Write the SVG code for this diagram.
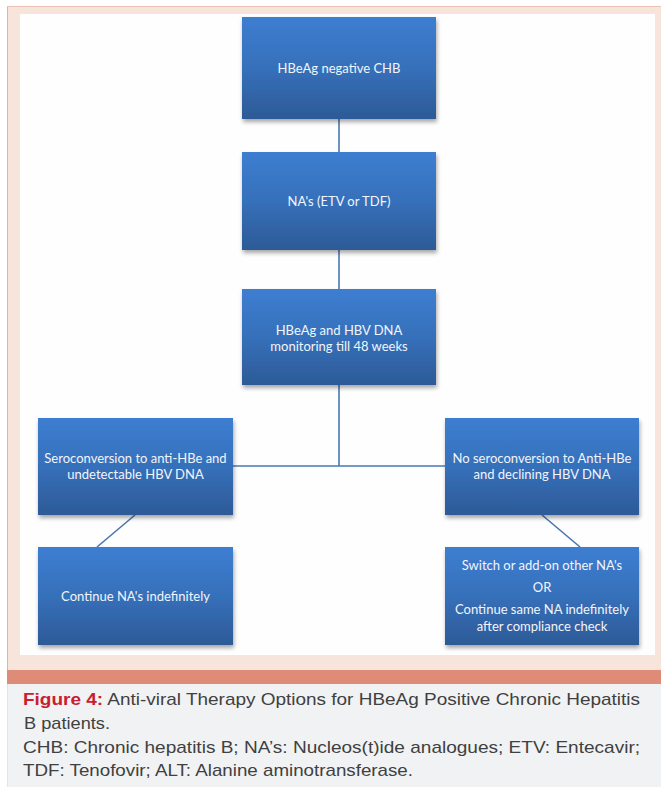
<svg xmlns="http://www.w3.org/2000/svg" width="661" height="787" viewBox="0 0 661 787">
<defs>
<linearGradient id="g" x1="0" y1="0" x2="0" y2="1">
<stop offset="0" stop-color="#3d7ed1"/>
<stop offset="0.5" stop-color="#3670ba"/>
<stop offset="1" stop-color="#2d5a97"/>
</linearGradient>
<filter id="sh" x="-10%" y="-10%" width="125%" height="125%">
<feGaussianBlur in="SourceAlpha" stdDeviation="2"/>
<feOffset dx="1" dy="3"/>
<feComponentTransfer><feFuncA type="linear" slope="0.35"/></feComponentTransfer>
<feMerge><feMergeNode/><feMergeNode in="SourceGraphic"/></feMerge>
</filter>
</defs>
<style>
.box{fill:url(#g);filter:url(#sh);}
.t{font-family:Lato,"Open Sans","Liberation Sans",sans-serif;font-size:13px;fill:#f2f5fb;text-anchor:middle;}
.c{stroke:#4a78b0;stroke-width:1.6;fill:none;}
.cap{font-family:"Liberation Sans",Arial,sans-serif;font-size:17px;fill:#404040;}
.red{fill:#c8202f;font-weight:bold;}
</style>
<rect x="0" y="0" width="661" height="787" fill="#ffffff"/>
<rect x="7" y="6" width="654" height="664" fill="#f7e5dc"/>
<line x1="7.5" y1="6" x2="7.5" y2="670" stroke="#e6b3a3" stroke-width="1"/>
<line x1="7" y1="6.5" x2="661" y2="6.5" stroke="#ebc1b3" stroke-width="1"/>
<rect x="20" y="14" width="635" height="641" fill="#fefefe"/>
<rect x="7" y="670" width="654" height="14" fill="#de8c78"/>
<rect x="7" y="684" width="654" height="103" fill="#f1f2f4"/>
<line x1="7.5" y1="684" x2="7.5" y2="787" stroke="#e3e4e6" stroke-width="1"/>

<g id="connectors">
<line class="c" x1="339" y1="119" x2="339" y2="152"/>
<line class="c" x1="339" y1="250" x2="339" y2="289"/>
<line class="c" x1="339" y1="385" x2="339" y2="466"/>
<line class="c" x1="233" y1="466" x2="445" y2="466"/>
<line class="c" x1="135" y1="515" x2="97" y2="547"/>
<line class="c" x1="542" y1="515" x2="580" y2="547"/>
</g>

<g id="n1"><rect class="box" x="242" y="17" width="194" height="102"/><text class="t" x="339" y="73">HBeAg negative CHB</text></g>
<g id="n2"><rect class="box" x="242" y="152" width="194" height="98"/><text class="t" x="339" y="206">NA's (ETV or TDF)</text></g>
<g id="n3"><rect class="box" x="242" y="289" width="194" height="96"/><text class="t" x="339" y="335">HBeAg and HBV DNA</text><text class="t" x="339" y="351">monitoring till 48 weeks</text></g>
<g id="n4"><rect class="box" x="38" y="418" width="195" height="97"/><text class="t" x="135.5" y="463">Seroconversion to anti-HBe and</text><text class="t" x="135.5" y="479">undetectable HBV DNA</text></g>
<g id="n5"><rect class="box" x="445" y="418" width="194" height="97"/><text class="t" x="542" y="463">No seroconversion to Anti-HBe</text><text class="t" x="542" y="479">and declining HBV DNA</text></g>
<g id="n6"><rect class="box" x="38" y="547" width="195" height="98"/><text class="t" x="135.5" y="601">Continue NA's indefinitely</text></g>
<g id="n7"><rect class="box" x="445" y="547" width="194" height="98"/><text class="t" x="542" y="570">Switch or add-on other NA's</text><text class="t" x="542" y="592">OR</text><text class="t" x="542" y="614">Continue same NA indefinitely</text><text class="t" x="542" y="631">after compliance check</text></g>

<g id="caption">
<text class="cap" x="23" y="705" textLength="617" lengthAdjust="spacingAndGlyphs"><tspan class="red">Figure 4:</tspan> Anti-viral Therapy Options for HBeAg Positive Chronic Hepatitis</text>
<text class="cap" x="24" y="729" textLength="86" lengthAdjust="spacingAndGlyphs">B patients.</text>
<text class="cap" x="23" y="753" textLength="617" lengthAdjust="spacingAndGlyphs">CHB: Chronic hepatitis B; NA’s: Nucleos(t)ide analogues; ETV: Entecavir;</text>
<text class="cap" x="23" y="776" textLength="390" lengthAdjust="spacingAndGlyphs">TDF: Tenofovir; ALT: Alanine aminotransferase.</text>
</g>
</svg>
